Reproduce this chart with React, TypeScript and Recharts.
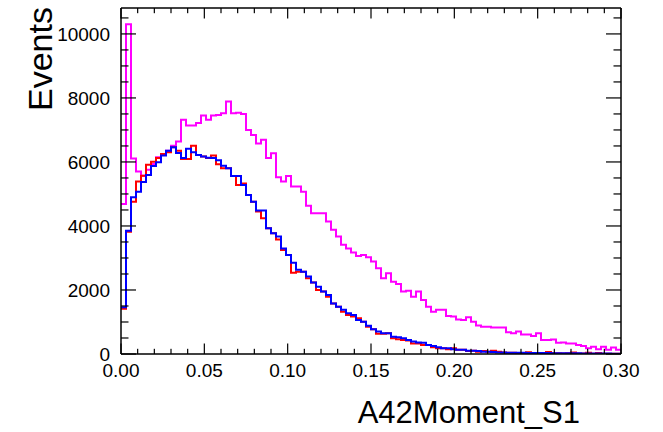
import { LineChart, Line, XAxis, YAxis } from 'recharts';

// histogram of A42Moment_S1, 100 bins of 0.003 from 0 to 0.30
const BIN_WIDTH = 0.003;

const magentaCounts = [
  4690, 10300, 6110, 5700, 5570, 5760, 5940, 6150, 6250, 6350,
  6510, 6640, 7320, 7140, 7140, 7220, 7450, 7320, 7450, 7470,
  7520, 7890, 7520, 7540, 7500, 7000, 6840, 6580, 6690, 6120,
  6270, 5520, 5390, 5560, 5230, 5230, 5070, 4630, 4400, 4400,
  4400, 4140, 3880, 3670, 3410, 3300, 3170, 3060, 3090, 3020,
  2890, 2680, 2370, 2520, 2260, 2190, 1950, 1980, 1790, 1950,
  1690, 1480, 1320, 1380, 1380, 1190, 1170, 1080, 1060, 1150,
  1010, 890, 850, 850, 830, 830, 830, 680, 650, 700,
  610, 610, 560, 650, 440, 440, 450, 350, 360, 330,
  330, 280, 250, 180, 230, 150, 230, 130, 200, 130,
];

const redCounts = [
  1410, 3820, 4760, 5390, 5570, 5910, 6010, 6120, 6250, 6300,
  6460, 6350, 6090, 6090, 6510, 6220, 6170, 6120, 6200, 5930,
  5800, 5800, 5560, 5280, 5330, 4970, 4760, 4450, 4240, 3930,
  3770, 3580, 3250, 3090, 2540, 2570, 2570, 2370, 2230, 2000,
  1950, 1790, 1580, 1480, 1320, 1220, 1170, 1120, 1010, 850,
  770, 630, 630, 650, 490, 460, 440, 420, 330, 330,
  280, 280, 210, 180, 180, 150, 180, 130, 130, 90,
  100, 70, 90, 70, 100, 70, 50, 40, 40, 20,
  30, 55, 30, 25, 20, 60, 25, 20, 15, 20,
  45, 15, 15, 40, 10, 35, 10, 10, 8, 5,
];

const blueCounts = [
  1460, 3850, 4900, 5070, 5370, 5590, 5870, 5990, 6200, 6350,
  6460, 6280, 6120, 6410, 6300, 6220, 6170, 6130, 6120, 6050,
  5880, 5800, 5560, 5560, 5280, 4970, 4760, 4480, 4480, 3930,
  3770, 3670, 3300, 3090, 2850, 2630, 2570, 2420, 2230, 2100,
  1950, 1840, 1580, 1480, 1380, 1270, 1220, 1060, 1010, 880,
  770, 700, 650, 650, 540, 520, 490, 440, 390, 360,
  350, 280, 250, 210, 180, 180, 150, 130, 130, 100,
  100, 90, 70, 70, 60, 50, 50, 40, 40, 40,
  40, 35, 35, 30, 30, 30, 25, 25, 25, 20,
  20, 20, 18, 15, 15, 15, 12, 12, 10, 10,
];

const xTicks = [
  0, 0.01, 0.02, 0.03, 0.04, 0.05, 0.06, 0.07, 0.08, 0.09,
  0.1, 0.11, 0.12, 0.13, 0.14, 0.15, 0.16, 0.17, 0.18, 0.19,
  0.2, 0.21, 0.22, 0.23, 0.24, 0.25, 0.26, 0.27, 0.28, 0.29, 0.3,
];
const yTicks = [
  0, 500, 1000, 1500, 2000, 2500, 3000, 3500, 4000, 4500, 5000,
  5500, 6000, 6500, 7000, 7500, 8000, 8500, 9000, 9500, 10000, 10500,
];

const FONT = '"Liberation Sans", Arial, Helvetica, sans-serif';
const Y_MAX = 10810;

// stepAfter needs the right edge of the last bin too
const rows = magentaCounts.map((m, i) => ({
  x: Number((i * BIN_WIDTH).toFixed(4)),
  magenta: m,
  red: redCounts[i],
  blue: blueCounts[i],
}));
rows.push({
  x: 0.3,
  magenta: magentaCounts[magentaCounts.length - 1],
  red: redCounts[redCounts.length - 1],
  blue: blueCounts[blueCounts.length - 1],
});

const isMajorX = (v: number) => Math.round(v * 100) % 5 === 0;
const isMajorY = (v: number) => v % 2000 === 0;

// ROOT style: ticks point into the frame, drawn as thin filled rects
const BottomTick = ({ x, y, payload }: any) => {
  const len = isMajorX(payload.value) ? 10.5 : 5.2;
  return (
    <g>
      <rect x={x - 0.6} y={y - len} width={1.2} height={len} fill="#000" />
      {isMajorX(payload.value) && (
        <text x={x} y={y + 23} textAnchor="middle" fontSize={19} fontFamily={FONT} fill="#000">
          {payload.value.toFixed(2)}
        </text>
      )}
    </g>
  );
};

const TopTick = ({ x, y, payload }: any) => {
  const len = isMajorX(payload.value) ? 10.5 : 5.2;
  return <rect x={x - 0.6} y={y} width={1.2} height={len} fill="#000" />;
};

const LeftTick = ({ x, y, payload }: any) => {
  const len = isMajorY(payload.value) ? 15 : 7.5;
  return (
    <g>
      <rect x={x} y={y - 0.6} width={len} height={1.2} fill="#000" />
      {isMajorY(payload.value) && (
        <text x={x - 11} y={y} dy="0.36em" textAnchor="end" fontSize={19} fontFamily={FONT} fill="#000">
          {payload.value}
        </text>
      )}
    </g>
  );
};

const RightTick = ({ x, y, payload }: any) => {
  const len = isMajorY(payload.value) ? 15 : 7.5;
  return <rect x={x - len} y={y - 0.6} width={len} height={1.2} fill="#000" />;
};

const axisLine = { stroke: '#000', strokeWidth: 1.5 };

export default function App() {
  return (
    <div style={{ position: 'absolute', left: 0, top: 0, width: 663, height: 432, background: '#fff' }}>
      <LineChart width={663} height={432} data={rows} margin={{ top: 7, right: 41, bottom: 0, left: 0 }}>
        <XAxis
          xAxisId="b"
          dataKey="x"
          type="number"
          domain={[0, 0.3]}
          allowDataOverflow
          ticks={xTicks}
          interval={0}
          height={78}
          tickSize={0}
          tickMargin={0}
          tickLine={false}
          axisLine={axisLine}
          tick={<BottomTick />}
        />
        <XAxis
          xAxisId="t"
          orientation="top"
          dataKey="x"
          type="number"
          domain={[0, 0.3]}
          allowDataOverflow
          ticks={xTicks}
          interval={0}
          height={1}
          tickSize={0}
          tickMargin={0}
          tickLine={false}
          axisLine={axisLine}
          tick={<TopTick />}
        />
        <YAxis
          yAxisId="l"
          type="number"
          domain={[0, Y_MAX]}
          allowDataOverflow
          ticks={yTicks}
          interval={0}
          width={121}
          tickSize={0}
          tickMargin={0}
          tickLine={false}
          axisLine={axisLine}
          tick={<LeftTick />}
        />
        <YAxis
          yAxisId="r"
          orientation="right"
          type="number"
          domain={[0, Y_MAX]}
          allowDataOverflow
          ticks={yTicks}
          interval={0}
          width={1}
          tickSize={0}
          tickMargin={0}
          tickLine={false}
          axisLine={axisLine}
          tick={<RightTick />}
        />
        {/* invisible copy so the top and right frame axes get a scale */}
        <Line xAxisId="t" yAxisId="r" type="stepAfter" dataKey="blue" stroke="none" strokeWidth={0} dot={false} activeDot={false} legendType="none" isAnimationActive={false} />
        <Line xAxisId="b" yAxisId="l" type="stepAfter" dataKey="magenta" stroke="#ff00ff" strokeWidth={2} dot={false} isAnimationActive={false} />
        <Line xAxisId="b" yAxisId="l" type="stepAfter" dataKey="red" stroke="#ff0000" strokeWidth={2} dot={false} isAnimationActive={false} />
        <Line xAxisId="b" yAxisId="l" type="stepAfter" dataKey="blue" stroke="#0000ff" strokeWidth={2} dot={false} isAnimationActive={false} />
      </LineChart>
      <svg width={663} height={432} style={{ position: 'absolute', left: 0, top: 0, pointerEvents: 'none' }}>
        <text transform="translate(52,111) rotate(-90)" fontSize={34} fontFamily={FONT} fill="#000">
          Events
        </text>
        <text x={580} y={423} textAnchor="end" fontSize={31} fontFamily={FONT} fill="#000">
          A42Moment_S1
        </text>
      </svg>
    </div>
  );
}
